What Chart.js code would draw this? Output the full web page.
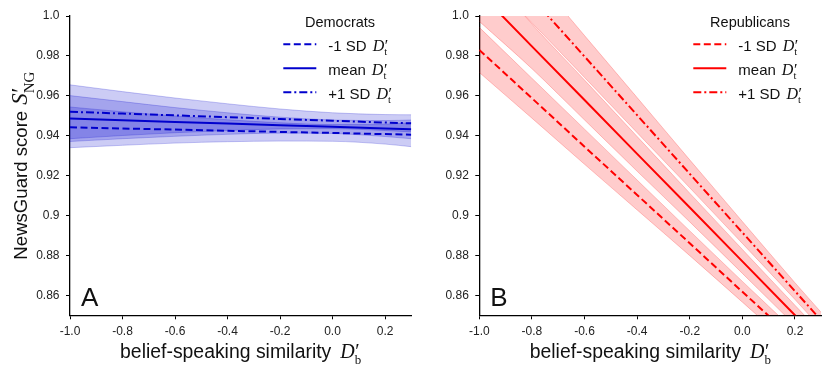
<!DOCTYPE html>
<html><head><meta charset="utf-8">
<script src="https://cdn.jsdelivr.net/npm/chart.js@4.4.0/dist/chart.umd.min.js"></script>
<style>
html,body{margin:0;padding:0;background:#fff;}
#wrap{position:relative;width:831px;height:374px;overflow:hidden;background:#fff;}
canvas{position:absolute;top:0;}
#cA{left:0;} #cB{left:415px;}
</style></head><body>
<div id="wrap"><canvas id="cA" width="415" height="374"></canvas><canvas id="cB" width="416" height="374"></canvas></div>
<script>
// ---- data ----
const xValues = [-1.0, -0.8, -0.6, -0.4, -0.2, 0.0, 0.2, 0.3];
const xTicks = [-1.0, -0.8, -0.6, -0.4, -0.2, 0.0, 0.2];
const xTickLabels = ['-1.0', '-0.8', '-0.6', '-0.4', '-0.2', '0.0', '0.2'];
const yTicks = [0.86, 0.88, 0.90, 0.92, 0.94, 0.96, 0.98, 1.0];
const yTickLabels = ['0.86', '0.88', '0.9', '0.92', '0.94', '0.96', '0.98', '1.0'];
const seriesLabels = ['-1 SD', 'mean', '+1 SD'];
const legendTitles = ['Democrats', 'Republicans'];
const panelLabels = ['A', 'B'];
const xTitle = 'belief-speaking similarity';
const yTitle = 'NewsGuard score';

// Democrats
const demLowLine   = [0.9442, 0.9436, 0.9431, 0.9425, 0.9419, 0.9414, 0.9408, 0.9405];
const demLowUpper  = [0.9544, 0.9520, 0.9499, 0.9480, 0.9465, 0.9456, 0.9458, 0.9465];
const demLowLower  = [0.9340, 0.9352, 0.9363, 0.9370, 0.9373, 0.9372, 0.9358, 0.9345];
const demMeanLine  = [0.9486, 0.9478, 0.9469, 0.9461, 0.9453, 0.9445, 0.9436, 0.9432];
const demMeanUpper = [0.9601, 0.9571, 0.9541, 0.9515, 0.9493, 0.9479, 0.9476, 0.9479];
const demMeanLower = [0.9371, 0.9385, 0.9397, 0.9407, 0.9413, 0.9411, 0.9396, 0.9385];
const demHighLine  = [0.9520, 0.9511, 0.9502, 0.9493, 0.9484, 0.9475, 0.9466, 0.9462];
const demHighUpper = [0.9655, 0.9621, 0.9589, 0.9560, 0.9534, 0.9515, 0.9506, 0.9505];
const demHighLower = [0.9385, 0.9401, 0.9415, 0.9426, 0.9434, 0.9435, 0.9426, 0.9419];

// Republicans
const repLowLine   = [0.9830, 0.9588, 0.9345, 0.9103, 0.8861, 0.8618, 0.8376, 0.8254];
const repLowUpper  = [0.9943, 0.9688, 0.9433, 0.9178, 0.8923, 0.8670, 0.8421, 0.8296];
const repLowLower  = [0.9717, 0.9488, 0.9257, 0.9028, 0.8799, 0.8566, 0.8331, 0.8212];
const repMeanLine  = [1.0118, 0.9848, 0.9579, 0.9309, 0.9040, 0.8770, 0.8500, 0.8366];
const repMeanUpper = [1.0263, 0.9960, 0.9679, 0.9396, 0.9112, 0.8830, 0.8550, 0.8412];
const repMeanLower = [0.9973, 0.9736, 0.9479, 0.9222, 0.8968, 0.8710, 0.8450, 0.8320];
const repHighLine  = [1.0385, 1.0091, 0.9797, 0.9503, 0.9209, 0.8915, 0.8621, 0.8474];
const repHighUpper = [1.0535, 1.0216, 0.9902, 0.9591, 0.9279, 0.8970, 0.8663, 0.8514];
const repHighLower = [1.0235, 0.9966, 0.9692, 0.9415, 0.9139, 0.8860, 0.8579, 0.8434];

// ---- styling ----
const SANS = '"Liberation Sans", Arial, sans-serif';
const SERIF = '"Liberation Serif", "DejaVu Serif", serif';
const dashes = [[7, 3.5], [], [8, 3, 2, 3]];

function pts(arr) { return arr.map((v, i) => ({ x: xValues[i], y: v })); }

function drawPrimeSub(ctx, base, sub, x, y, size, subSize, subDy, doDraw) {
  ctx.font = `italic ${size}px ${SERIF}`;
  const bw = ctx.measureText(base).width;
  ctx.font = `${size}px ${SERIF}`;
  const pw = ctx.measureText('\u2032').width;
  ctx.font = `${subSize}px ${SERIF}`;
  const sw = ctx.measureText(sub).width;
  if (doDraw) {
    ctx.textAlign = 'left';
    ctx.font = `italic ${size}px ${SERIF}`; ctx.fillText(base, x, y);
    ctx.font = `${size}px ${SERIF}`; ctx.fillText('\u2032', x + bw + 0.5, y);
    ctx.font = `${subSize}px ${SERIF}`; ctx.fillText(sub, x + bw, y + subDy);
  }
  return bw + Math.max(pw + 0.5, sw);
}

const annotPlugin = {
  id: 'annot',
  afterDraw(chart) {
    const cfg = chart.options.plugins.annot;
    const ctx = chart.ctx, a = chart.chartArea;
    ctx.save();
    ctx.fillStyle = '#111';
    ctx.textBaseline = 'alphabetic';
    // panel label
    ctx.font = `26px ${SANS}`; ctx.textAlign = 'left';
    ctx.fillText(cfg.panel, a.left + 11, 305.7);
    // legend
    ctx.font = `14.5px ${SANS}`; ctx.textAlign = 'center';
    ctx.fillText(cfg.legendTitle, a.right - 71.3, 27.3);
    seriesLabels.forEach((lab, i) => {
      const y = 44.3 + 24 * i;
      ctx.save();
      ctx.strokeStyle = cfg.color; ctx.lineWidth = 2; ctx.setLineDash(dashes[i]);
      ctx.beginPath(); ctx.moveTo(a.right - 128, y); ctx.lineTo(a.right - 95, y); ctx.stroke();
      ctx.restore();
      ctx.font = `15px ${SANS}`; ctx.textAlign = 'left';
      const tx = a.right - 83;
      ctx.fillText(lab, tx, y + 6.4);
      const w = ctx.measureText(lab).width;
      drawPrimeSub(ctx, 'D', 't', tx + w + 6, y + 6.4, 16, 10.5, 4, true);
    });
    // x title
    ctx.font = `19.4px ${SANS}`;
    const tw = ctx.measureText(xTitle).width;
    const mw = drawPrimeSub(ctx, 'D', 'b', 0, 0, 20, 13, 6, false);
    const gap = 9;
    const x0 = (a.left + a.right) / 2 - (tw + gap + mw) / 2;
    ctx.font = `19.4px ${SANS}`; ctx.textAlign = 'left';
    ctx.fillText(xTitle, x0, 357.8);
    drawPrimeSub(ctx, 'D', 'b', x0 + tw + gap, 357.8, 20, 13, 6, true);
    // y title
    if (cfg.yTitle) {
      ctx.save();
      ctx.translate(27, (a.top + a.bottom) / 2);
      ctx.rotate(-Math.PI / 2);
      ctx.font = `18.6px ${SANS}`;
      const yw = ctx.measureText(yTitle).width;
      const ygap = 6;
      const ym = drawPrimeSub(ctx, 'S', 'NG', 0, 0, 23, 15, 6.5, false);
      const y0 = -(yw + ygap + ym) / 2;
      ctx.font = `18.6px ${SANS}`; ctx.textAlign = 'left';
      ctx.fillText(yTitle, y0, 0);
      drawPrimeSub(ctx, 'S', 'NG', y0 + yw + ygap, 0, 23, 15, 6.5, true);
      ctx.restore();
    }
    ctx.restore();
  }
};

function makeChart(id, lines, bands, color, fill, edge, yAxisWidth, rightPad, idx) {
  const datasets = [];
  bands.forEach(b => {
    datasets.push({ data: pts(b[0]), borderColor: edge, borderWidth: 1, backgroundColor: fill,
      fill: '+1', pointRadius: 0, cubicInterpolationMode: 'monotone' });
    datasets.push({ data: pts(b[1]), borderColor: edge, borderWidth: 1, backgroundColor: fill,
      fill: false, pointRadius: 0, cubicInterpolationMode: 'monotone' });
  });
  lines.forEach((l, i) => {
    datasets.push({ label: seriesLabels[i], data: pts(l), borderColor: color, borderWidth: 2,
      borderDash: dashes[i], fill: false, pointRadius: 0, tension: 0 });
  });
  return new Chart(document.getElementById(id), {
    type: 'line',
    data: { datasets },
    plugins: [annotPlugin],
    options: {
      responsive: false, animation: false, devicePixelRatio: 1,
      layout: { padding: { top: 16, right: rightPad, left: 0, bottom: 0 } },
      plugins: {
        legend: { display: false }, tooltip: { enabled: false },
        filler: { drawTime: 'beforeDatasetsDraw' },
        annot: { panel: panelLabels[idx], legendTitle: legendTitles[idx], color, yTitle: idx === 0 }
      },
      scales: {
        x: {
          type: 'linear', min: -1.0, max: 0.3,
          afterBuildTicks: s => { s.ticks = xTicks.map(v => ({ value: v })); },
          afterFit: s => { s.height = 58.7; },
          ticks: { callback: (v, i) => xTickLabels[i], font: { family: SANS, size: 12 }, color: '#222', padding: 5, maxRotation: 0, autoSkip: false },
          grid: { display: true, drawOnChartArea: false, drawTicks: true, tickLength: 4, color: '#000', lineWidth: 1 },
          border: { display: true, color: '#000', width: 1.3 }
        },
        y: {
          type: 'linear', min: 0.85, max: 1.0,
          afterBuildTicks: s => { s.ticks = yTicks.map(v => ({ value: v })); },
          afterFit: s => { s.width = yAxisWidth; },
          ticks: { callback: (v, i) => yTickLabels[i], font: { family: SANS, size: 12 }, color: '#222', padding: 6.5, autoSkip: false },
          grid: { display: true, drawOnChartArea: false, drawTicks: true, tickLength: 4, color: '#000', lineWidth: 1 },
          border: { display: true, color: '#000', width: 1.3 }
        }
      }
    }
  });
}

makeChart('cA', [demLowLine, demMeanLine, demHighLine],
  [[demLowUpper, demLowLower], [demMeanUpper, demMeanLower], [demHighUpper, demHighLower]],
  '#0000cd', 'rgba(0,0,205,0.2)', 'rgba(0,0,205,0.22)', 70, 3.7, 0);
makeChart('cB', [repLowLine, repMeanLine, repHighLine],
  [[repLowUpper, repLowLower], [repMeanUpper, repMeanLower], [repHighUpper, repHighLower]],
  '#ff0000', 'rgba(255,0,0,0.2)', 'rgba(255,0,0,0.22)', 64.3, 9.7, 1);
</script>
</body></html>
